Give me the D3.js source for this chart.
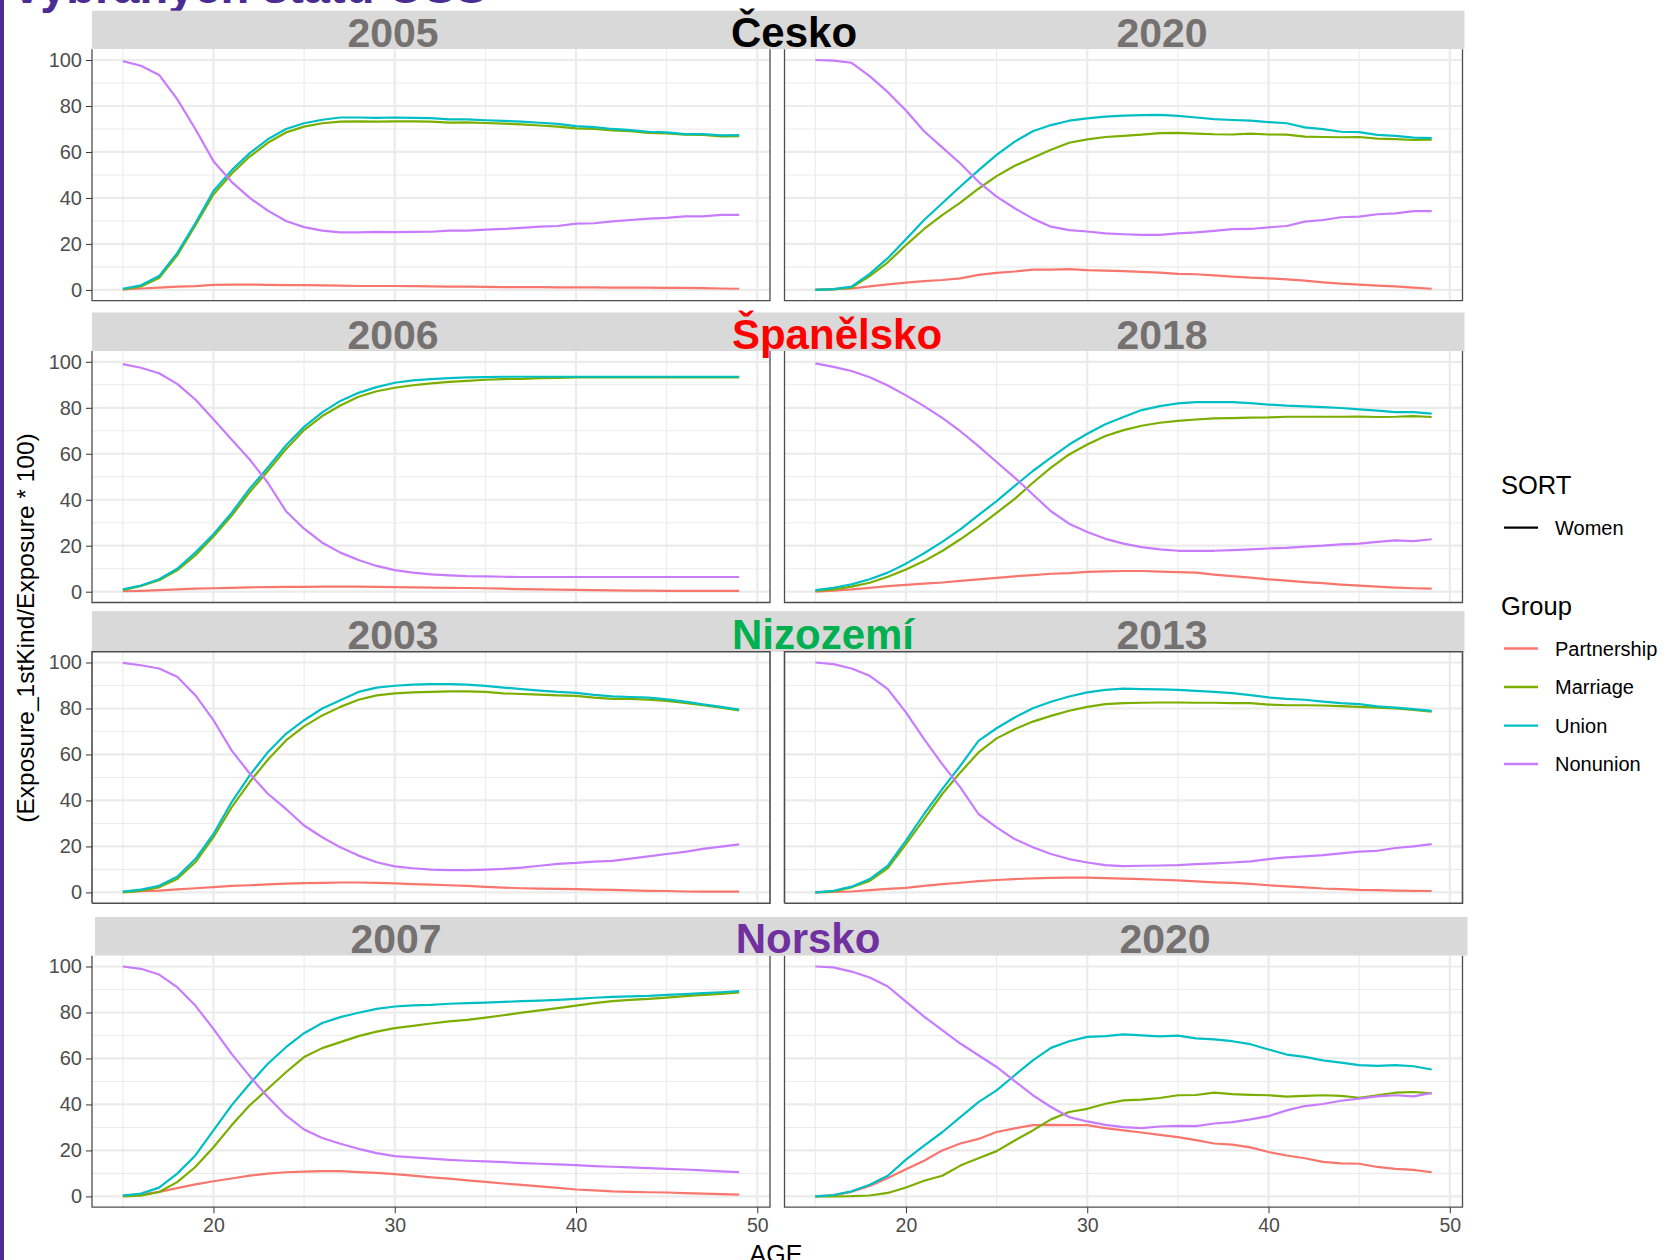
<!DOCTYPE html>
<html>
<head>
<meta charset="utf-8">
<script src="https://cdn.jsdelivr.net/npm/d3@7"></script>
<style>
  body { margin: 0; background: #fff; }
  svg { display: block; }
  text { font-family: "Liberation Sans", Arial, Helvetica, sans-serif; }
</style>
</head>
<body>
<div id="chart"></div>
<script>
// ages on the x axis
var ages = [15,16,17,18,19,20,21,22,23,24,25,26,27,28,29,30,31,32,33,34,35,36,37,38,39,40,41,42,43,44,45,46,47,48,49];

var groups = ["Partnership", "Marriage", "Union", "Nonunion"];
var groupColors = ["#F8766D", "#7CAE00", "#00BFC4", "#C77CFF"];

var yTicks = [0, 20, 40, 60, 80, 100];
var xTicks = [20, 30, 40, 50];

// Česko 2005
var cz2005 = {
  Partnership: [0.2,0.6,1,1.4,1.6,2.2,2.3,2.3,2.2,2.1,2.1,2,1.9,1.7,1.7,1.7,1.6,1.5,1.4,1.4,1.3,1.2,1.2,1.2,1.1,1.1,1.1,1,1,1,0.9,0.9,0.8,0.6,0.5],
  Marriage: [0.2,1.5,5.2,15,28,41.5,50.5,58,64,68.5,71,72.5,73.2,73.3,73.2,73.3,73.3,73.2,72.8,72.9,72.6,72.3,72,71.5,71,70.3,70,69.4,69,68.3,68.1,67.5,67.4,66.8,66.9],
  Union: [0.5,2,6,16,29,43,52,59.5,65.5,70,72.5,74,75,75,74.8,75,74.8,74.7,74.2,74.2,73.8,73.5,73.2,72.7,72.2,71.2,70.8,70,69.5,68.8,68.5,67.8,67.8,67.2,67.3],
  Nonunion: [99.5,97.5,93.5,83,70,56,47,40,34.5,30,27.3,25.8,25,25,25.2,25.1,25.2,25.3,25.8,25.8,26.2,26.5,27,27.5,27.8,28.8,29,29.8,30.4,31,31.3,32,32,32.6,32.6]
};
// Česko 2020
var cz2020 = {
  Partnership: [0,0.3,0.6,1.5,2.4,3.2,3.8,4.3,5,6.5,7.4,8,8.8,8.8,9,8.6,8.4,8.2,7.8,7.5,7,6.8,6.3,5.8,5.3,5,4.6,4,3.3,2.7,2.3,1.9,1.5,1,0.5],
  Marriage: [0,0.2,1,6,12,19.5,26.5,32.5,38,44,49.5,54,57.5,61,64,65.5,66.5,67,67.5,68.2,68.3,68,67.7,67.6,68,67.6,67.5,66.7,66.5,66.4,66.5,65.8,65.6,65.2,65.4],
  Union: [0,0.3,1.4,7,13.8,22,30.4,37.7,45,52,58.7,64.5,69,71.7,73.6,74.6,75.4,75.8,76,76.1,75.7,75,74.3,73.9,73.6,73,72.5,70.7,69.9,68.8,68.6,67.4,67,66.2,66],
  Nonunion: [100,99.7,98.8,93,86,78,69,62,55,47,40.6,35.5,31,27.5,26,25.4,24.6,24.2,23.9,23.9,24.6,25,25.7,26.4,26.5,27.2,27.8,29.7,30.4,31.6,31.9,32.9,33.3,34.3,34.3]
};
// Španělsko 2006
var es2006 = {
  Partnership: [0.2,0.4,0.7,1,1.3,1.5,1.7,1.9,2,2.1,2.1,2.2,2.2,2.2,2.1,2,1.9,1.8,1.7,1.6,1.5,1.3,1.1,1,0.9,0.8,0.7,0.6,0.5,0.5,0.4,0.4,0.4,0.4,0.4],
  Marriage: [0.7,2.5,5,9.3,15.8,24,33,43.3,52.5,62,70.3,76.4,81,84.8,87.2,88.7,89.8,90.6,91.3,91.7,92.2,92.5,92.6,92.9,93,93.2,93.2,93.2,93.2,93.2,93.2,93.2,93.2,93.2,93.2],
  Union: [1,2.7,5.4,10,17,25,34.3,44.8,54,63.6,71.7,78,83,86.5,89,90.9,91.9,92.5,92.9,93.2,93.3,93.5,93.5,93.5,93.5,93.5,93.5,93.5,93.5,93.5,93.5,93.5,93.5,93.5,93.5],
  Nonunion: [99,97.4,95,90.4,83.6,75,66.2,57.5,47.4,35,27.4,21.3,17,13.8,11.2,9.4,8.3,7.5,7.1,6.8,6.7,6.5,6.4,6.4,6.4,6.4,6.4,6.4,6.4,6.4,6.4,6.4,6.4,6.4,6.4]
};
// Španělsko 2018
var es2018 = {
  Partnership: [0,0.5,1,1.7,2.4,3,3.5,4,4.7,5.4,6,6.7,7.2,7.8,8.1,8.6,8.8,9,9,8.7,8.5,8.3,7.4,6.8,6.1,5.4,4.8,4.2,3.7,3.1,2.6,2.2,1.8,1.5,1.3],
  Marriage: [0.3,1,2.2,3.9,6.5,9.7,13.3,17.7,22.8,28.3,34.3,40.4,47.4,54,59.7,64,67.7,70.3,72.2,73.5,74.3,74.9,75.4,75.5,75.7,75.8,76.1,76.1,76.1,76.1,76.2,76,76.1,76.4,76],
  Union: [0.7,1.7,3.2,5.4,8.3,12.2,16.7,21.7,27.1,33.3,39.4,46,52.5,58.3,64,68.7,72.8,76,79,80.7,81.9,82.5,82.5,82.5,82,81.4,80.9,80.6,80.3,79.9,79.3,78.8,78.1,78.1,77.5],
  Nonunion: [99.3,97.8,96,93.3,89.7,85.4,80.7,75.6,69.8,63.3,56.4,49.6,42.3,35,29.6,26,23,20.9,19.4,18.4,17.8,17.8,17.8,18.1,18.4,18.8,19.1,19.6,20,20.6,20.9,21.7,22.3,22,22.8]
};
// Nizozemí 2003
var nl2003 = {
  Partnership: [0.2,0.5,0.8,1.3,1.8,2.3,2.8,3.1,3.5,3.8,4,4.1,4.3,4.3,4.1,3.9,3.6,3.4,3.1,2.8,2.4,2.1,1.8,1.6,1.5,1.4,1.2,1.1,0.9,0.7,0.6,0.4,0.3,0.3,0.3],
  Marriage: [0,0.7,2.2,5.8,13.1,24,37,48,57.7,66.1,72.2,77,80.7,83.8,85.7,86.6,87,87.2,87.4,87.4,87.2,86.6,86.3,86,85.7,85.5,84.7,84.2,84.2,83.8,83.3,82.4,81.4,80.4,79.2],
  Union: [0.3,1.2,2.9,6.8,14.5,25.4,39.2,50.9,61,69,74.9,80,83.6,87.2,89.1,89.9,90.4,90.6,90.6,90.4,89.8,89.1,88.4,87.8,87.2,86.8,85.9,85.3,85,84.7,84,83,81.8,80.7,79.5],
  Nonunion: [99.8,98.8,97.4,93.8,85.8,74.9,61.8,51.7,42.9,36.3,29.1,24,19.6,16,13.1,11.3,10.5,9.9,9.7,9.7,9.9,10.2,10.8,11.6,12.4,12.8,13.4,13.7,14.7,15.7,16.7,17.6,18.9,19.9,20.9]
};
// Nizozemí 2013
var nl2013 = {
  Partnership: [0,0.2,0.4,1,1.5,2,2.8,3.6,4.2,4.9,5.4,5.8,6.1,6.3,6.4,6.4,6.2,6,5.8,5.5,5.2,4.8,4.4,4.1,3.7,3.1,2.6,2.2,1.7,1.4,1.1,1,0.8,0.7,0.6],
  Marriage: [0,0.4,2.2,5,10.6,21,31.9,42.8,52.2,60.9,67,71,74.3,76.8,79,80.7,81.9,82.3,82.5,82.6,82.6,82.5,82.5,82.3,82.3,81.7,81.4,81.4,81.3,81,80.7,80.4,80,79.4,78.6],
  Union: [0,0.7,2.5,5.8,11.6,22.5,34.1,44.9,55.1,65.9,71.4,76.1,80.1,82.9,85.2,87,88.1,88.6,88.4,88.3,88.1,87.7,87.2,86.7,85.8,84.8,84.2,83.8,83,82.3,81.9,80.9,80.4,79.7,79],
  Nonunion: [100,99.3,97.4,94.2,88.4,78.3,66.7,55.8,45.7,34.1,28.3,23.2,19.6,16.7,14.5,13,11.9,11.4,11.6,11.7,11.9,12.3,12.6,13,13.5,14.5,15.2,15.7,16.2,17,17.7,18.1,19.3,20,21]
};
// Norsko 2007
var no2007 = {
  Partnership: [0.3,0.8,2,3.6,5.2,6.6,7.8,9,9.9,10.5,10.8,11,11,10.6,10.2,9.7,9,8.3,7.7,7,6.3,5.6,5,4.4,3.7,3,2.6,2.2,2,1.8,1.7,1.4,1.2,1,0.8],
  Marriage: [0,0.3,1.9,6.2,12.8,21.4,30.9,39.6,46.8,54,60.6,64.5,67.1,69.7,71.7,73.2,74.2,75.2,76.1,76.8,77.8,78.8,79.9,80.9,81.9,83,84.1,84.9,85.5,85.9,86.5,87.1,87.7,88.1,88.7],
  Union: [0.4,1.2,3.8,9.9,17.8,28.7,39.6,49,57.7,64.9,71,75.4,78,79.9,81.6,82.6,83.1,83.3,83.8,84.1,84.3,84.6,84.9,85.2,85.5,85.9,86.4,86.8,87,87.2,87.7,88,88.4,88.8,89.3],
  Nonunion: [100,99,96.5,91,83,72.9,62,52.3,43.2,35.2,29.1,25.4,22.9,20.7,18.8,17.5,17,16.4,15.9,15.5,15.2,14.9,14.5,14.2,13.9,13.6,13.2,12.9,12.6,12.3,12,11.7,11.3,10.9,10.6]
};
// Norsko 2020
var no2020 = {
  Partnership: [0,0.5,2,4.5,8,11.8,15.5,20,23,25,28,29.6,31,31.1,31,31,29.7,28.7,27.8,26.8,25.8,24.5,23,22.5,21.3,19.3,17.8,16.6,15,14.4,14.2,12.8,12,11.5,10.5],
  Marriage: [0,0,0.1,0.4,1.5,3.9,6.8,9,13.4,16.6,19.7,24.3,28.7,33.5,36.7,38.1,40.3,41.8,42.1,42.8,44,44.1,45.1,44.5,44.2,44,43.4,43.7,44,43.7,42.9,44,45.1,45.4,44.8],
  Union: [0,0.6,2.2,5.1,9,16,22.1,27.9,34.5,41,46.1,52.7,59.2,64.6,67.5,69.4,69.7,70.5,70,69.6,69.9,68.7,68.3,67.5,66.2,63.9,61.7,60.7,59.2,58.2,57.1,56.8,57.1,56.6,55.2],
  Nonunion: [100,99.6,97.8,95.2,91.3,84.7,78.2,72.3,66.5,61.4,56.3,50.1,44,38.9,34.5,32.6,31.1,30.1,29.7,30.4,30.7,30.6,31.7,32.3,33.5,34.9,37.4,39.3,40.2,41.6,42.5,43.5,44,43.5,45]
};

var rowsInfo = [
  { country: "Česko",     color: "#000000", years: ["2005", "2020"], data: [cz2005, cz2020] },
  { country: "Španělsko", color: "#FF0000", years: ["2006", "2018"], data: [es2006, es2018] },
  { country: "Nizozemí",  color: "#00B050", years: ["2003", "2013"], data: [nl2003, nl2013] },
  { country: "Norsko",    color: "#7030A0", years: ["2007", "2020"], data: [no2007, no2020] }
];

// layout
var W = 1678, H = 1260;
var panelW = 678, panelH = 251.5;
var panelX = [92, 784.5];
var stripTop = [10.7, 312.5, 611, 917];
var plotTop = [49.2, 351, 651.7, 955.7];
var stripShift = [0, 0, 0, 3];

var svg = d3.select("#chart").append("svg")
    .attr("width", W)
    .attr("height", H);

// set the ranges
var x = d3.scaleLinear().domain([13.3, 50.7]).range([0, panelW]);
var y = d3.scaleLinear().domain([-4.7, 104.7]).range([panelH, 0]);
var color = d3.scaleOrdinal().domain(groups).range(groupColors);

var valueline = d3.line()
    .x(function(d) { return x(d.age); })
    .y(function(d) { return y(d.value); });

// slide title, cut off at the top
svg.append("text")
    .attr("x", 14)
    .attr("y", 3)
    .style("font-size", "47px")
    .style("font-weight", "bold")
    .style("fill", "#4B2C92")
    .text("vybraných států OSS");

// purple edge of the slide
svg.append("rect")
    .attr("x", 0).attr("y", 0)
    .attr("width", 4).attr("height", H)
    .style("fill", "#4B2C92");

svg.append("defs").append("clipPath")
    .attr("id", "clip")
    .append("rect")
    .attr("width", panelW)
    .attr("height", panelH);

rowsInfo.forEach(function(row, r) {
  // strip across both panels
  svg.append("rect")
      .attr("x", panelX[0] + stripShift[r])
      .attr("y", stripTop[r])
      .attr("width", panelX[1] + panelW + 2 - panelX[0])
      .attr("height", plotTop[r] - stripTop[r])
      .style("fill", "#D9D9D9");

  row.data.forEach(function(pd, c) {
    var g = svg.append("g")
        .attr("transform", "translate(" + panelX[c] + "," + plotTop[r] + ")");

    g.append("rect")
        .attr("width", panelW).attr("height", panelH)
        .style("fill", "#fff");

    // minor grid
    [10, 30, 50, 70, 90].forEach(function(v) {
      g.append("line").attr("x1", 0).attr("x2", panelW)
          .attr("y1", y(v)).attr("y2", y(v))
          .style("stroke", "#EBEBEB").style("stroke-width", 1.1);
    });
    [15, 25, 35, 45].forEach(function(v) {
      g.append("line").attr("y1", 0).attr("y2", panelH)
          .attr("x1", x(v)).attr("x2", x(v))
          .style("stroke", "#EBEBEB").style("stroke-width", 1.1);
    });
    // major grid
    yTicks.forEach(function(v) {
      g.append("line").attr("x1", 0).attr("x2", panelW)
          .attr("y1", y(v)).attr("y2", y(v))
          .style("stroke", "#EBEBEB").style("stroke-width", 2.2);
    });
    xTicks.forEach(function(v) {
      g.append("line").attr("y1", 0).attr("y2", panelH)
          .attr("x1", x(v)).attr("x2", x(v))
          .style("stroke", "#EBEBEB").style("stroke-width", 2.2);
    });

    // lines, one per group
    groups.forEach(function(grp) {
      var pts = ages.map(function(a, i) { return { age: a, value: pd[grp][i] }; });
      g.append("path")
          .datum(pts)
          .attr("clip-path", "url(#clip)")
          .attr("d", valueline)
          .style("fill", "none")
          .style("stroke", color(grp))
          .style("stroke-width", 2.2)
          .style("stroke-linejoin", "round");
    });

    // panel border (left, right, bottom)
    var border = "M0,0V" + panelH + "H" + panelW + "V0";
    if (r === 2) border = "M0," + panelH + "V0H" + panelW + "V" + panelH + "H0";
    g.append("path")
        .attr("d", border)
        .style("fill", "none")
        .style("stroke", "#4D4D4D")
        .style("stroke-width", r === 2 ? 1.6 : 1.3);

    // y axis on the left column
    if (c === 0) {
      var ya = g.append("g")
          .call(d3.axisLeft(y).tickValues(yTicks).tickSize(6).tickPadding(4));
      ya.select(".domain").remove();
      ya.selectAll(".tick line").style("stroke", "#333");
      ya.selectAll(".tick text")
          .style("font-family", "'Liberation Sans', Arial, sans-serif")
          .style("font-size", "20px")
          .style("fill", "#4D4D4D");
    }
    // x axis on the bottom row
    if (r === 3) {
      var xa = g.append("g")
          .attr("transform", "translate(0," + panelH + ")")
          .call(d3.axisBottom(x).tickValues(xTicks).tickSize(6).tickPadding(5));
      xa.select(".domain").remove();
      xa.selectAll(".tick line").style("stroke", "#333");
      xa.selectAll(".tick text")
          .style("font-family", "'Liberation Sans', Arial, sans-serif")
          .style("font-size", "19.5px")
          .style("fill", "#4D4D4D");
    }

    // year label in the strip
    svg.append("text")
        .attr("x", (c === 0 ? 393 : 1162) + stripShift[r])
        .attr("y", plotTop[r] - 2.5)
        .attr("text-anchor", "middle")
        .style("font-size", "41px")
        .style("font-weight", "bold")
        .style("fill", "#767171")
        .text(row.years[c]);
  });

  // country label over the strips
  var cx = [794, 837, 823, 808][r];
  svg.append("text")
      .attr("x", cx)
      .attr("y", plotTop[r] - 2.5)
      .attr("text-anchor", "middle")
      .style("font-size", "42px")
      .style("font-weight", "bold")
      .style("fill", row.color)
      .text(row.country);
});

// axis titles
svg.append("text")
    .attr("transform", "translate(34,628) rotate(-90)")
    .attr("text-anchor", "middle")
    .style("font-size", "24.5px")
    .style("fill", "#000")
    .text("(Exposure_1stKind/Exposure * 100)");

svg.append("text")
    .attr("x", 776)
    .attr("y", 1263)
    .attr("text-anchor", "middle")
    .style("font-size", "25px")
    .style("fill", "#000")
    .text("AGE");

// legend
var leg = svg.append("g");
leg.append("text").attr("x", 1501).attr("y", 494)
    .style("font-size", "25.5px").text("SORT");
leg.append("line").attr("x1", 1504).attr("x2", 1538)
    .attr("y1", 527.6).attr("y2", 527.6)
    .style("stroke", "#000").style("stroke-width", 2.4);
leg.append("text").attr("x", 1555).attr("y", 527.6).attr("dy", "0.35em")
    .style("font-size", "20px").text("Women");

leg.append("text").attr("x", 1501).attr("y", 615)
    .style("font-size", "25.5px").text("Group");
var legY = [648.5, 687, 725.6, 764];
groups.forEach(function(grp, i) {
  leg.append("line").attr("x1", 1504).attr("x2", 1538)
      .attr("y1", legY[i]).attr("y2", legY[i])
      .style("stroke", color(grp)).style("stroke-width", 2.4);
  leg.append("text").attr("x", 1555).attr("y", legY[i]).attr("dy", "0.35em")
      .style("font-size", "20px").text(grp);
});
</script>
</body>
</html>
